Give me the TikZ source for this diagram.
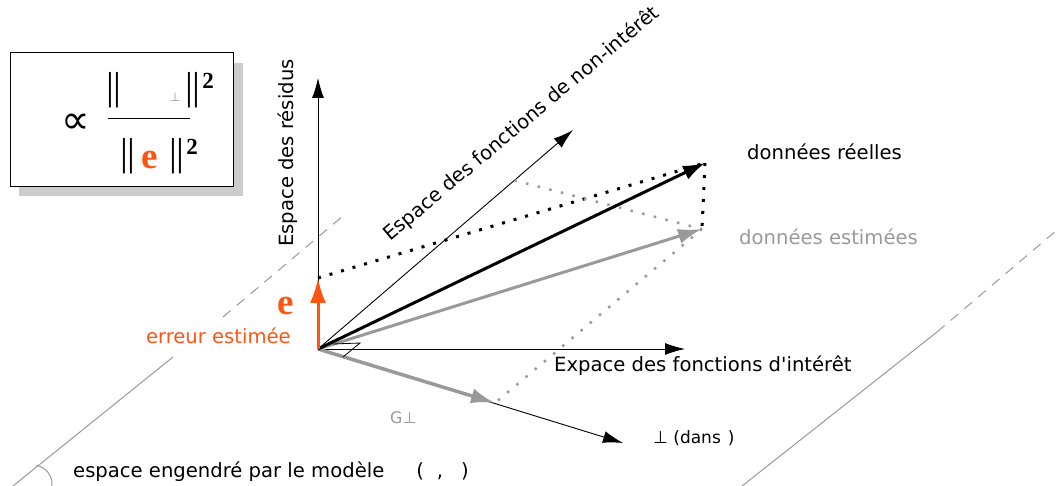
\documentclass[tikz,border=0pt]{standalone}
\usepackage{fontspec}
\newfontfamily\lab{DejaVu Sans}
\setmainfont{DejaVu Sans}
\newfontfamily\tnr{Liberation Serif}
\usetikzlibrary{arrows.meta,calc}
\definecolor{orng}{HTML}{FF5511}
\definecolor{gry}{HTML}{999999}
\definecolor{shad}{HTML}{CCCCCC}
\begin{document}
\begin{tikzpicture}[x=1pt,y=-1pt,
  lbl/.style={inner sep=0pt,font=\lab\fontsize{19.6}{21}\selectfont},
  axis/.style={line width=0.9pt,-{Latex[length=20pt,width=12pt]}},
  vecblack/.style={line width=3pt,-{Latex[length=22pt,width=15pt]}},
  vecgray/.style={gry,line width=3pt,-{Latex[length=24pt,width=15pt]}},
  dotblack/.style={line width=3pt,dash pattern=on 3pt off 9pt},
  dotgray/.style={gry,line width=2.5pt,dash pattern=on 2.5pt off 9.5pt},
  plane/.style={gry,line width=1pt},
  planedash/.style={gry,line width=1pt,dash pattern=on 10pt off 8pt},
  bars/.style={inner sep=0pt,font=\tnr\fontsize{39}{39}\selectfont},
  sq/.style={inner sep=0pt,font=\tnr\bfseries\fontsize{23}{23}\selectfont},
  bige/.style={inner sep=0pt,orng,font=\tnr\bfseries\fontsize{37}{37}\selectfont},
]
\useasboundingbox (0,0) rectangle (1058,486);
% plane
\coordinate (L1) at (8,490);
\coordinate (L2) at (173,357);
\coordinate (L3) at (223,317);
\coordinate (L4) at (343,216);
\coordinate (R1) at (737,490);
\coordinate (R2) at (937,332);
\coordinate (R3) at (1057,230);
\draw[plane] (L1) -- (L2);
\draw[planedash] (L3) -- (L4);
\draw[plane] (R1) -- (R2);
\draw[planedash] (R2) -- (R3);
\draw[plane] (33,484) ++(-80:19) arc[start angle=-80,end angle=20,radius=19];
% key points
\coordinate (O) at (318,349);
\coordinate (R) at (318,78);
\coordinate (E) at (318,278);
\coordinate (N) at (573,130);
\coordinate (D) at (705,163);
\coordinate (S) at (702,229);
\coordinate (I) at (685,349);
\coordinate (P) at (623,443);
\coordinate (G) at (495,403);
\coordinate (NP) at ($(O)!0.77!(N)$);
% axes
\draw[axis] (O) -- (R);
\draw[axis] (O) -- (N);
\draw[axis] (O) -- (I);
\draw[axis] (O) -- (P);
% vectors
\draw[vecgray,line width=3.5pt] (O) -- (G);
\draw[vecgray] (O) -- (S);
\draw[vecblack] (O) -- (D);
\draw[orng,line width=3pt,-{Latex[length=25pt,width=16pt]}] (O) -- (E);
% dotted
\draw[dotblack] (E) -- (D);
\draw[dotblack] (D) -- (S);
\draw[dotgray] (NP) -- (S);
\draw[dotgray] (S) -- (G);
% right angle
\draw[line width=0.8pt] (333,344) -- (360,343) -- (343,357);
% labels
\node[lbl,anchor=base west] (dr) at (747,160) {données réelles};
\node[lbl,gry,anchor=base west] (de) at (739,245) {données estimées};
\node[lbl,anchor=base west] (ei) at (554,372) {Expace des fonctions d'intérêt};
\node[lbl,anchor=base west,font=\lab\fontsize{17}{19}\selectfont] (pd) at (653,443) {⊥ (dans\hspace{7pt})};
\node[lbl,gry,anchor=base west,font=\lab\fontsize{16}{18}\selectfont] (gp) at (390,423) {G⊥};
\node[lbl,anchor=base west] (em) at (73,477) {espace engendré par le modèle\hspace{32pt}(\hspace{13pt},\hspace{18pt})};
\node[lbl,orng,anchor=base east] (ee) at (291,344) {erreur estimée};
\node[lbl,rotate=90,anchor=base west] (er) at (293,247) {Espace des résidus};
\node[lbl,rotate=40,anchor=base west] (en) at (390,242) {Espace des fonctions de non-intérêt};
\node[bige] (el) at (286,306) {e};
% formula box
\fill[shad] (19,63) rectangle (243,196);
\draw[fill=white,line width=1pt] (10,53) rectangle (233,187);
\node[inner sep=0pt,font=\lab\fontsize{40}{40}\selectfont] (prop) at (76,124) {∝};
\draw[line width=1pt] (108,119) -- (190,119);
\node[bars] (b1) at (114,90) {||};
\node[inner sep=0pt,gry,font=\lab\fontsize{12}{12}\selectfont] (pp) at (175,97) {⊥};
\node[bars] (b2) at (193,90) {||};
\node[sq] (s1) at (208,81) {2};
\node[bars] (b3) at (128,156) {||};
\node[bige] (e2) at (150,160) {e};
\node[bars] (b4) at (177,156) {||};
\node[sq] (s2) at (192,147) {2};
\end{tikzpicture}
\end{document}
